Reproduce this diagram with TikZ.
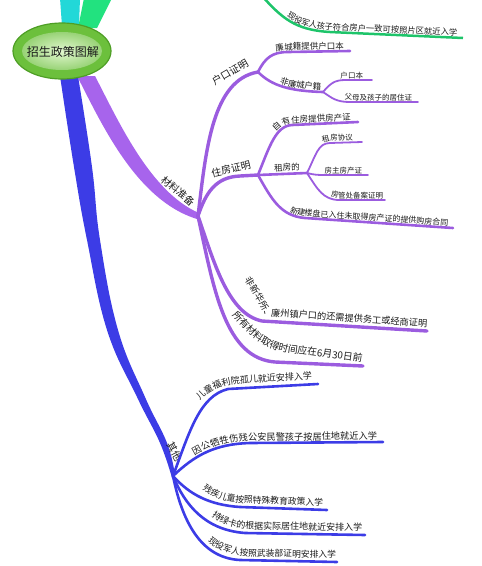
\documentclass[tikz,border=0pt]{standalone}
\usepackage{fontspec}
\setmainfont{Noto Sans CJK SC}
\usetikzlibrary{decorations.text,shapes.geometric}
\definecolor{pmain}{HTML}{A764EC}
\definecolor{psub}{HTML}{9B5CDF}
\definecolor{bmain}{HTML}{3C3CE6}
\definecolor{cyanb}{HTML}{22D8D8}
\definecolor{greenb}{HTML}{22E27F}
\definecolor{greenl}{HTML}{1EC46A}
\definecolor{txt}{HTML}{1A1A1A}
\definecolor{rootrim}{HTML}{4E9E25}
\definecolor{rootout}{HTML}{6CC03C}
\definecolor{rootin}{HTML}{E2F7CF}
\begin{document}
\begin{tikzpicture}[x=1pt,y=-1pt,
  lb/.style n args={4}{postaction={decorate,decoration={text along path,text={|\fontsize{#1}{#1}\selectfont|#2},text color=txt,text align={right,right indent=#3pt},raise=#4pt}}},
  l2/.style={draw=psub,line width=3.4pt,line cap=round},
  l3/.style={draw=psub,line width=2.6pt,line cap=round},
  l4/.style={draw=psub,line width=1.8pt,line cap=round},
  b2/.style={draw=bmain,line width=2.6pt,line cap=round},
  mlab/.style={font=\fontsize{10}{10}\selectfont,text=txt,inner sep=0pt},
]
\useasboundingbox (0,0) rectangle (482,566);
\begin{scope}
\clip (0,0) rectangle (482,566);
% named points
\coordinate (M) at (198,216);
\coordinate (HK) at (258,72);
\coordinate (A1b) at (288,52);   \coordinate (A1e) at (350,51);
\coordinate (HK2) at (323,92);
\coordinate (A2ab) at (345,80);  \coordinate (A2ae) at (372,80);
\coordinate (A2bb) at (350,102); \coordinate (A2be) at (418,102);
\coordinate (ZFb) at (240,176);  \coordinate (ZF) at (258,175);
\coordinate (B1b) at (292,125);  \coordinate (B1e) at (358,122);
\coordinate (ZR) at (307,173);
\coordinate (B2ab) at (330,143); \coordinate (B2ae) at (362,142);
\coordinate (B2bb) at (325,175); \coordinate (B2be) at (368,175);
\coordinate (B2cb) at (338,200); \coordinate (B2ce) at (385,200);
\coordinate (B3b) at (305,218);  \coordinate (B3e) at (453,228);
\coordinate (Cb) at (262,321);   \coordinate (Ce) at (427,331);
\coordinate (Db) at (275,362);   \coordinate (De) at (363,366);
\coordinate (Q) at (173,476);
\coordinate (E1b) at (228,389);  \coordinate (E1e) at (318,384);
\coordinate (E2b) at (250,443);  \coordinate (E2e) at (383,442);
\coordinate (E3b) at (240,507);  \coordinate (E3e) at (327,510);
\coordinate (E4b) at (245,533);  \coordinate (E4e) at (365,535);
\coordinate (E5b) at (240,560);  \coordinate (E5e) at (337,562);
\coordinate (G0) at (262,-4); \coordinate (G1) at (330,32); \coordinate (G2) at (463,38);

% top branches
\fill[cyanb] (62,26) -- (60,-2) -- (80,-2) -- (79,26) -- cycle;
\fill[greenb] (78,28) -- (84,-2) -- (112,-2) -- (97,28) -- cycle;
\draw[draw=greenl,line width=2.5pt,lb={8.3}{现役军人孩子符合房户一致可按照片区就近入学}{6}{2}] (G0) .. controls (282,18) and (295,30) .. (G1) -- (G2);

% main purple branch
\fill[pmain] (77,76) .. controls (100,120) and (135,200) .. (197,219) -- (199,213) .. controls (150,192) and (118,120) .. (95,76) -- cycle;
\node[mlab,rotate=-40] (tcl) at (178,191) {材料准备};

% main blue branch
\fill[bmain] plot[smooth,tension=0.7] coordinates {(60,76) (74,167) (87,240) (107,330) (137,397) (160,443) (172,478)} -- plot[smooth,tension=0.7] coordinates {(175,475) (167,443) (145,397) (118,330) (100,240) (92,167) (78,76)} -- cycle;
\node[mlab,rotate=-62] (tqt) at (174.5,452) {其他};

% 户口证明
\draw[l2] (M) .. controls (206,150) and (212,80) .. (HK);
\node[mlab,rotate=30] (thk) at (230,72) {户口证明};
\draw[l3,lb={8.5}{廉城籍提供户口本}{6}{2}] (HK) .. controls (265,58) and (272,52) .. (A1b) -- (A1e);
\draw[l3,lb={8.5}{非廉城户籍}{2}{2}] (HK) .. controls (272,86) and (290,91) .. (HK2);
\draw[l4,lb={7.5}{户口本}{9}{2}] (HK2) .. controls (330,84) and (334,80) .. (A2ab) -- (A2ae);
\draw[l4,lb={7.5}{父母及孩子的居住证}{6}{2}] (HK2) .. controls (332,98) and (336,102) .. (A2bb) -- (A2be);

% 住房证明
\draw[l2] (M) .. controls (206,192) and (216,177) .. (ZFb) -- (ZF);
\node[mlab,rotate=13] (tzf) at (231,169) {住房证明};
\draw[l3,lb={8.5}{自有住房提供房产证}{7}{2}] (ZF) .. controls (270,145) and (276,126) .. (B1b) -- (B1e);
\draw[l3,lb={8.5}{租房的}{7}{3}] (ZF) -- (ZR);
\draw[l4,lb={7.5}{租房协议}{9}{2}] (ZR) .. controls (316,155) and (318,143) .. (B2ab) -- (B2ae);
\draw[l4,lb={7.5}{房主房产证}{6}{2}] (ZR) .. controls (315,175) and (318,175) .. (B2bb) -- (B2be);
\draw[l4,lb={7.5}{房管处备案证明}{2}{2}] (ZR) .. controls (318,190) and (323,199) .. (B2cb) -- (B2ce);
\draw[l3,lb={8}{新建楼盘已入住未取得房产证的提供购房合同}{5}{2}] (ZF) .. controls (272,200) and (281,216) .. (B3b) -- (B3e);

% others under 材料准备
\draw[l2] (M) .. controls (214,262) and (228,314) .. (Cb) -- (Ce);
\path[lb={9.2}{非新华所、廉州镇户口的还需提供务工或经商证明}{1}{0}] (226,250) -- (258,302) .. controls (260,306) and (264,315.5) .. (270,316) -- (428,327);
\draw[l2] (M) .. controls (214,290) and (225,358) .. (Db) -- (De);
\path[lb={9.8}{所有材料取得时间应在6月30日前}{1}{0}] (224,307) .. controls (246,330) and (256,346) .. (285,352) -- (363,362);

% 其他
\draw[b2] (Q) .. controls (190,430) and (200,396) .. (E1b) -- (E1e);
\path[lb={9}{儿童福利院孤儿就近安排入学}{2}{0}] (190,416) .. controls (199,398) and (211,385.5) .. (240,383.5) -- (314,379);
\draw[b2,lb={9.2}{因公牺牲伤残公安民警孩子按居住地就近入学}{6}{2.5}] (Q) .. controls (195,455) and (215,444) .. (E2b) -- (E2e);
\draw[b2] (Q) .. controls (190,495) and (210,505) .. (E3b) -- (E3e);
\path[lb={8.8}{残疾儿童按照特殊教育政策入学}{4}{0}] (188,475) .. controls (202,492) and (214,501) .. (245,503) -- (327,506);
\draw[b2] (Q) .. controls (185,505) and (205,530) .. (E4b) -- (E4e);
\path[lb={9}{持绿卡的根据实际居住地就近安排入学}{3}{0}] (192,492) .. controls (206,515) and (218,527) .. (250,529) -- (365,531);
\draw[b2] (Q) .. controls (182,520) and (200,558) .. (E5b) -- (E5e);
\path[lb={8.8}{现役军人按照武装部证明安排入学}{1}{0}] (190,512) .. controls (202,540) and (214,553) .. (245,556) -- (337,558);

% root
\node[ellipse,minimum width=98pt,minimum height=56pt,fill=rootout,draw=rootrim,line width=1.2pt] (root) at (62,51) {};
\node[ellipse,minimum width=80pt,minimum height=38pt,inner color=rootin,outer color=rootout!70!white] (rootin) at (62,51) {};
\node[font=\fontsize{12}{12}\selectfont,text=txt] (roottxt) at (63,52) {招生政策图解};
\end{scope}
\end{tikzpicture}
\end{document}
